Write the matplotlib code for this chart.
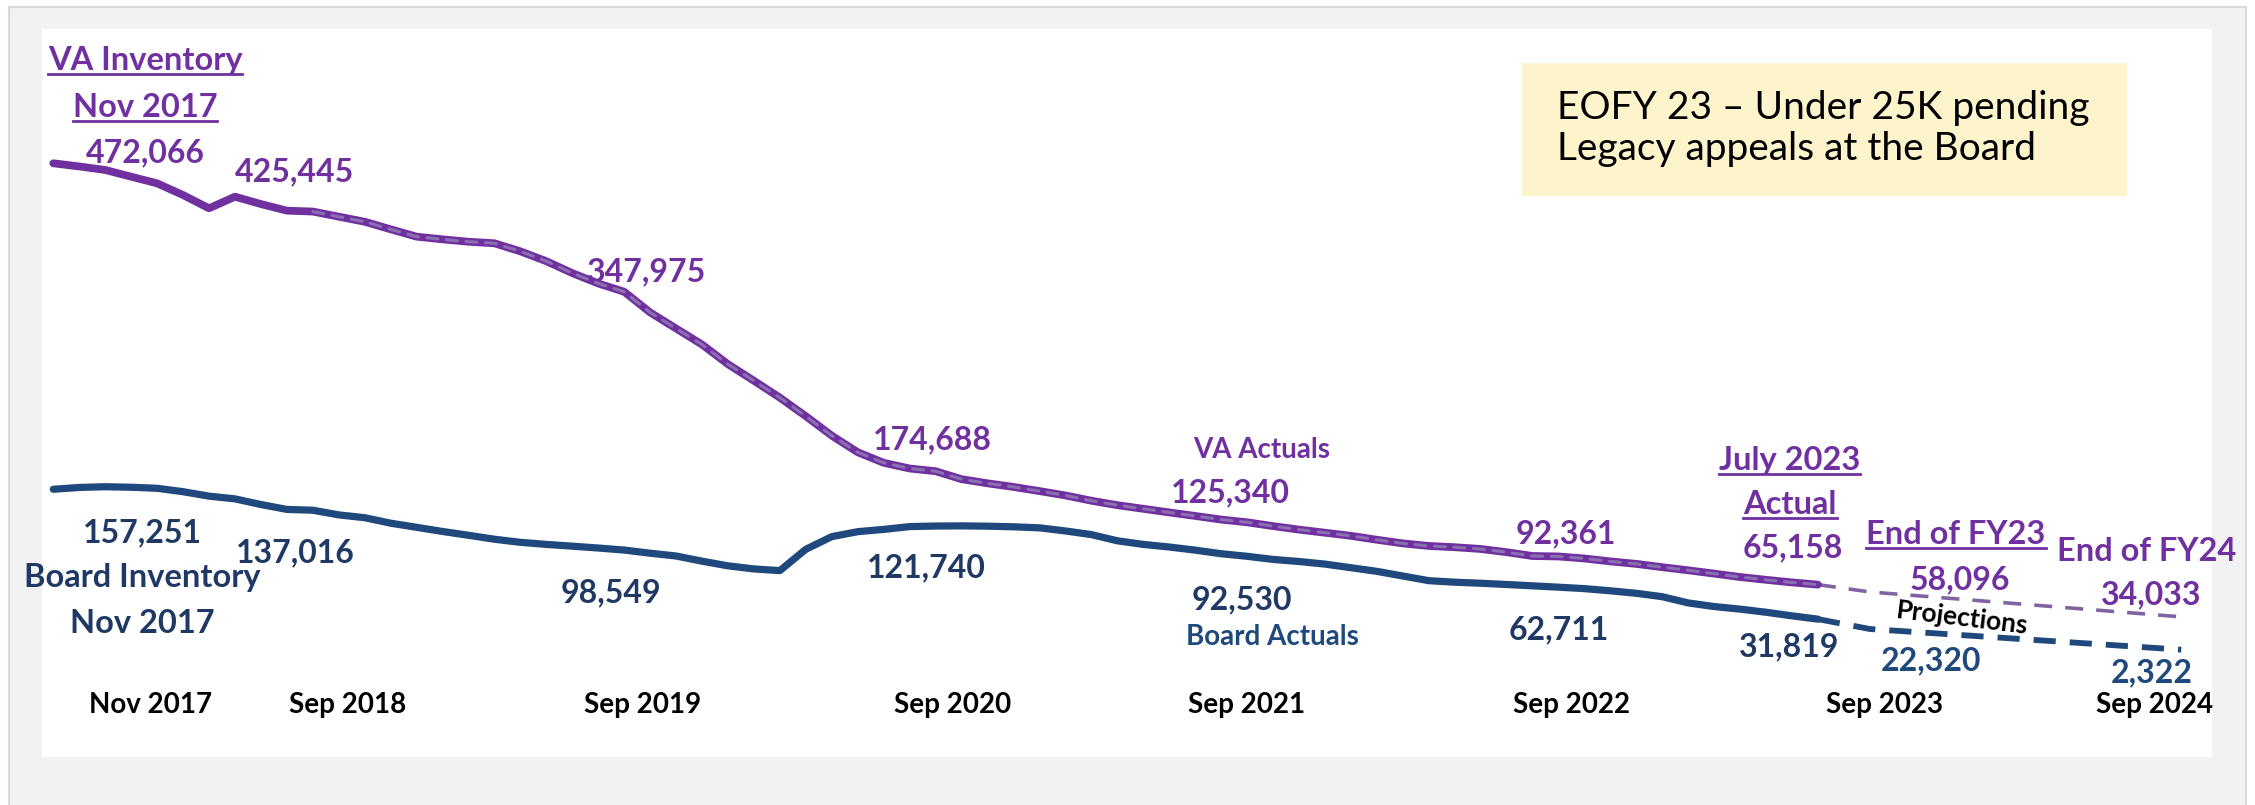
import numpy as np
import matplotlib
matplotlib.use("Agg")
import matplotlib.pyplot as plt
from matplotlib.patches import Rectangle
from matplotlib.lines import Line2D
import matplotlib.transforms as mtrans

plt.rcParams['font.family'] = ['Lato', 'DejaVu Sans']

# months counted from Nov 2017 (0) to Jul 2023 (68)
months = np.arange(69)
va_actual = [472066, 469000, 465600, 459100, 452700, 441400, 428600, 439800, 432700, 426300,
             425445, 420500, 415600, 408300, 401200, 398600, 396300, 394800, 387000, 377500,
             366000, 356000, 347975, 328000, 312500, 297000, 278000, 262000, 245700, 227800,
             209000, 193000, 182800, 177300, 174688, 167000, 163000, 159500, 155500, 151300,
             146200, 141900, 138400, 134900, 131500, 128000, 125340, 121700, 118300, 115300,
             112300, 108500, 105000, 102500, 101300, 99600, 96500, 92800, 92361, 90400,
             87600, 85200, 82000, 79000, 75800, 72500, 69800, 67300, 65158]
board_actual = [157251, 159000, 159700, 159200, 158200, 154900, 150600, 148000, 142500, 137800,
                137016, 132500, 129800, 124500, 120500, 116500, 112800, 109000, 106000, 104000,
                102300, 100500, 98549, 95500, 92800, 87800, 83300, 80300, 78700, 99300,
                111500, 116300, 118500, 121200, 121740, 121900, 121600, 121000, 120000, 117000,
                113500, 107500, 104000, 101500, 98500, 95000, 92530, 89500, 87500, 85000,
                81500, 78000, 73500, 69000, 67500, 66500, 65300, 64000, 62711, 61300,
                59200, 56800, 53500, 47500, 44000, 41500, 38500, 35000, 31819]

proj_months = [68, 70, 82]
va_proj = [65158, 58096, 34033]
board_proj = [31819, 22320, 2322]

label_months = [0, 10, 22, 34, 46, 58, 68, 70, 82]
va_labels = [472066, 425445, 347975, 174688, 125340, 92361, 65158, 58096, 34033]
board_labels = [157251, 137016, 98549, 121740, 92530, 62711, 31819, 22320, 2322]

tick_labels = ["Nov 2017", "Sep 2018", "Sep 2019", "Sep 2020", "Sep 2021",
               "Sep 2022", "Sep 2023", "Sep 2024"]
tick_pos = [3.73, 11.36, 22.69, 34.67, 46.0, 58.52, 70.55, 80.99]

PURPLE = "#7030A0"
LAVENDER = "#8A70B0"
NAVY_LINE = "#1F497D"
NAVY_TXT = "#1F3864"

W, H = 2255, 805
fig = plt.figure(figsize=(W / 100, H / 100), dpi=100)
fig.patch.set_facecolor("white")


def box(x0, y0, x1, y1, **kw):
    # pixel box, y measured from top
    r = Rectangle((x0 / W, 1 - y1 / H), (x1 - x0) / W, (y1 - y0) / H,
                  transform=fig.transFigure, zorder=-5, **kw)
    fig.add_artist(r)


box(9, 7, 2246, 812, facecolor="#F2F2F2", edgecolor="#D9D9D9", lw=1.5)
box(42, 29, 2212, 757, facecolor="white", edgecolor="none")
box(1522, 63, 2127, 196, facecolor="#FDF4CC", edgecolor="none")

ax = fig.add_axes([0, 0, 1, 1])
ax.patch.set_alpha(0)
ax.axis("off")
px_month, x0 = 25.95, 53.3
px_k, y0 = 1.0355, 152.9
ax.set_xlim(-x0 / px_month, (W - x0) / px_month)
ax.set_ylim(-y0 / px_k * 1000, (H - y0) / px_k * 1000)

# actual lines
ax.plot(months, va_actual, color=PURPLE, lw=5.6, solid_joinstyle="round",
        solid_capstyle="round", zorder=3)
ax.plot(months[10:], va_actual[10:], color=LAVENDER, lw=2.2, dash_capstyle="round",
        linestyle=(0, (3.6, 2.8)), zorder=4)
ax.plot(months, board_actual, color=NAVY_LINE, lw=5.2, solid_joinstyle="round",
        solid_capstyle="round", zorder=3)

# projections
ax.plot(proj_months, va_proj, color="#8064A2", lw=2.6, linestyle=(0, (5.0, 3.6)), zorder=2)
ax.plot(proj_months, board_proj, color=NAVY_LINE, lw=4.2, linestyle=(0, (3.8, 2.4)), zorder=2)

va_series = dict(zip(list(months) + proj_months, va_actual + va_proj))
board_series = dict(zip(list(months) + proj_months, board_actual + board_proj))

va_off = [(92, 10), (-18, 40), (22, 20), (-3, 31), (-17, 29), (7, 23), (-25, 37), (90, 12), (-30, 22)]
board_off = [(89, -44), (-18, -43), (-13, -43), (-9, -42), (-5, -44), (0, -43), (-29, -28), (61, -32), (-29, -23)]

for m, v, off in zip(label_months, va_labels, va_off):
    ax.annotate(f"{v:,}", (m, va_series[m]), xytext=off, textcoords="offset pixels",
                ha="center", va="center", fontsize=23, fontweight="bold", color=PURPLE)
for m, v, off in zip(label_months, board_labels, board_off):
    col = NAVY_TXT if m < 70 else NAVY_LINE
    ax.annotate(f"{v:,}", (m, board_series[m]), xytext=off, textcoords="offset pixels",
                ha="center", va="center", fontsize=23, fontweight="bold", color=col)

underlined = []


def lab(x, y, s, color, size=23.5, ul=False, **kw):
    t = ax.text(x, y, s, ha="center", va="center", fontsize=size, fontweight="bold",
                color=color, **kw)
    if ul:
        underlined.append((t, color))
    return t


lab(3.54, 571300, "VA Inventory", PURPLE, ul=True)
lab(3.54, 525500, "Nov 2017", PURPLE, ul=True)
lab(46.58, 195200, "VA Actuals", PURPLE, size=20)
lab(66.92, 185500, "July 2023", PURPLE, ul=True)
lab(66.92, 142100, "Actual", PURPLE, ul=True)
lab(73.32, 113100, "End of FY23", PURPLE, ul=True)
lab(80.68, 96700, "End of FY24", PURPLE)
lab(73.55, 32900, "Projections", "black", size=19, rotation=-7)
lab(46.97, 14600, "Board Actuals", NAVY_LINE, size=20)
lab(3.42, 71600, "Board Inventory", NAVY_TXT)
lab(3.42, 28100, "Nov 2017", NAVY_TXT)

tr = mtrans.blended_transform_factory(ax.transData, fig.transFigure)
for p, s in zip(tick_pos, tick_labels):
    ax.text(p, 1 - 705 / H, s, transform=tr, ha="center", va="center",
            fontsize=20, fontweight="bold", color="black")

fig.text(1557 / W, 1 - 108 / H, "EOFY 23 \u2013 Under 25K pending", fontsize=28,
         ha="left", va="center", color="black")
fig.text(1557 / W, 1 - 149 / H, "Legacy appeals at the Board", fontsize=28,
         ha="left", va="center", color="black")

fig.canvas.draw()
r = fig.canvas.get_renderer()
for t, col in underlined:
    bb = t.get_window_extent(renderer=r)
    yy = (bb.y0 + 1) / H
    fig.add_artist(Line2D([bb.x0 / W, bb.x1 / W], [yy, yy], transform=fig.transFigure,
                          color=col, lw=2.0, zorder=5))

fig.savefig("out.png", dpi=100)
